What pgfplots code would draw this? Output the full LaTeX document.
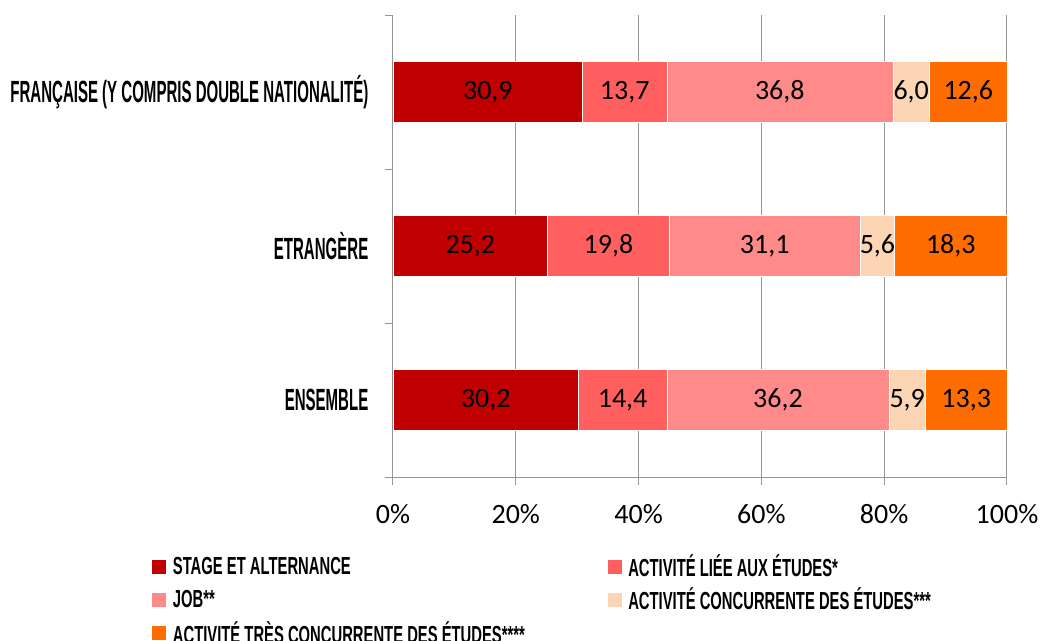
\documentclass[border=0pt]{standalone}
\usepackage{fontspec}
\setmainfont{Carlito}
\newfontfamily\catfont{Liberation Sans Bold}[FakeStretch=0.49]
\newfontfamily\legfont{Liberation Sans Bold}[FakeStretch=0.6]
\usepackage{pgfplots}
\usepackage{pgfplotstable}
\pgfplotsset{compat=1.18}

\definecolor{cStage}{HTML}{C00000}
\definecolor{cLiee}{HTML}{FF5F5F}
\definecolor{cJob}{HTML}{FF8A8A}
\definecolor{cConc}{HTML}{FCD5B4}
\definecolor{cTres}{HTML}{FF6D00}
\definecolor{gridgray}{RGB}{150,150,150}

% 0 = Ensemble, 1 = Etrangere, 2 = Francaise
\pgfplotstableread{
y stage liee job conc tres
0 30.2 14.4 36.2 5.9 13.3
1 25.2 19.8 31.1 5.6 18.3
2 30.9 13.7 36.8 6.0 12.6
}\data

\pgfplotsset{
  seg/.style={fill=#1, draw=white, line width=0.4pt},
}

\begin{document}
\begin{tikzpicture}
\begin{axis}[
  scale only axis, width=460.5pt, height=346.5pt,
  xbar stacked, bar width=0.396,
  xmin=0, xmax=100, ymin=-0.5, ymax=2.5,
  axis x line*=bottom, axis y line*=left,
  axis line style={gridgray, line width=0.75pt},
  xtick={0,20,40,60,80,100},
  xticklabels={0\%,20\%,40\%,60\%,80\%,100\%},
  xmajorgrids, grid style={gridgray, line width=0.75pt},
  tick align=outside, major tick length=6pt,
  tick style={gridgray, line width=0.75pt},
  xticklabel style={font=\fontsize{21}{25}\selectfont, yshift=-11pt},
  ytick={-0.5,0.5,1.5,2.5}, yticklabels={},
  extra y ticks={0,1,2},
  extra y tick labels={ENSEMBLE, ETRANGÈRE, FRANÇAISE (Y COMPRIS DOUBLE NATIONALITÉ)},
  extra y tick style={major tick length=0pt,
    yticklabel style={font=\catfont\fontsize{23}{27}\selectfont, xshift=-15pt}},
  point meta=explicit,
  nodes near coords={\pgfmathprintnumber[use comma,fixed,fixed zerofill,precision=1,assume math mode=true]{\pgfplotspointmeta}},
  every node near coord/.append style={anchor=center,
    font=\fontsize{21}{25}\selectfont, text=black},
  legend columns=2,
  legend cell align=left,
  legend style={at={(-0.3925,-0.168)}, anchor=north west, draw=none, fill=none,
    inner sep=0pt, font=\legfont\fontsize{18.5}{22}\selectfont,
    nodes={inner sep=0pt}, row sep=7pt,
    /tikz/every odd column/.style={column sep=5pt}},
  legend image code/.code={\path[#1, draw=none] (0pt,-5.25pt) rectangle (10.5pt,5.25pt);},
]
\addplot[seg=cStage] table[x=stage, y=y, meta=stage] {\data};
\addplot[seg=cLiee] table[x=liee, y=y, meta=liee] {\data};
\addplot[seg=cJob] table[x=job, y=y, meta=job] {\data};
\addplot[seg=cConc] table[x=conc, y=y, meta=conc] {\data};
\addplot[seg=cTres] table[x=tres, y=y, meta=tres] {\data};
\addlegendentry{\makebox[326pt][l]{STAGE ET ALTERNANCE}}
\addlegendentry{ACTIVITÉ LIÉE AUX ÉTUDES*}
\addlegendentry{\makebox[326pt][l]{JOB**}}
\addlegendentry{ACTIVITÉ CONCURRENTE DES ÉTUDES***}
\addlegendentry{ACTIVITÉ TRÈS CONCURRENTE DES ÉTUDES****}
\end{axis}
\pgfresetboundingbox
\useasboundingbox (-294.75pt,-122.25pt) rectangle (485.25pt,357.75pt);
\end{tikzpicture}
\end{document}
